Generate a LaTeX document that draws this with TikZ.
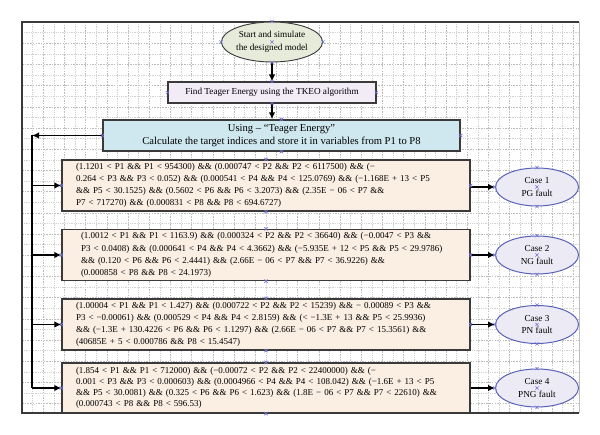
\documentclass[tikz,border=0pt]{standalone}
\usepackage{fontspec}
\setmainfont{Liberation Serif}
\usetikzlibrary{arrows.meta,shapes.geometric}
\definecolor{peach}{HTML}{FBEEE3}
\definecolor{usingfill}{HTML}{CFE7EE}
\definecolor{tkeofill}{HTML}{F1ECF6}
\definecolor{startfill}{HTML}{E7EBD9}
\definecolor{casefill}{HTML}{ECEAF4}
\definecolor{caseline}{HTML}{5A62B8}
\definecolor{darkline}{HTML}{3A3A3A}
\definecolor{markblue}{HTML}{7272D8}
\definecolor{gridc}{HTML}{BDBDBD}
\tikzset{
  txt/.style={font=\fontsize{9.2}{12.4}\selectfont},
  btxt/.style={font=\fontsize{9}{12.2}\selectfont},
  startell/.style={ellipse, draw=darkline, line width=0.9pt, fill=startfill, minimum width=100, minimum height=40, inner sep=0pt, align=center, txt},
  plainbox/.style={rectangle, draw=darkline, line width=1.1pt, inner sep=2pt, align=center, txt},
  condbox/.style={rectangle, draw=darkline, line width=1.3pt, fill=peach, inner xsep=14pt, inner ysep=1pt, text width=380pt, minimum height=51, align=left, btxt},
  caseell/.style={ellipse, draw=caseline, line width=1pt, fill=casefill, minimum width=83, minimum height=38, inner sep=0pt, align=center, txt},
  arr/.style={draw=black, line width=1.7pt, -{Latex[length=7pt,width=6.5pt]}},
  bus/.style={draw=black, line width=1.5pt},
  cpm/.style={draw=markblue, line width=0.6pt},
  gridmaj/.style={draw=gridc, line width=0.4pt, dash pattern=on 1.5pt off 1.2pt},
  gridmin/.style={draw=gridc!70, line width=0.4pt, dash pattern=on 0.6pt off 1.2pt},
}
\begin{document}
\begin{tikzpicture}[x=1pt,y=-1pt]
\useasboundingbox (0,0) rectangle (600,435);
\fill[white] (0,0) rectangle (600,435);
% grid
\begin{scope}
\clip (22,22) rectangle (579,413);
\foreach \i in {1,...,53} {
  \pgfmathsetmacro{\xx}{22+10.6*\i}
  \ifodd\i \draw[gridmin] (\xx,22) -- (\xx,413); \else \draw[gridmaj] (\xx,22) -- (\xx,413); \fi
}
\foreach \i in {1,...,37} {
  \pgfmathsetmacro{\yy}{22+10.6*\i}
  \ifodd\i \draw[gridmin] (22,\yy) -- (579,\yy); \else \draw[gridmaj] (22,\yy) -- (579,\yy); \fi
}
\end{scope}
\draw[gridc, line width=0.6pt] (579,22) -- (579,413);
\draw[darkline, line width=1.2pt] (579,22) -- (22,22) -- (22,413) -- (579,413);

% nodes
\node[startell] (start) at (272,42) {Start and simulate\\the designed model};
\node[plainbox, fill=tkeofill, minimum width=208, minimum height=21] (tkeo) at (272,92.5) {Find Teager Energy using the TKEO algorithm};
\node[plainbox, fill=usingfill, minimum width=357, minimum height=31, line width=1.3pt, inner sep=1pt, font=\fontsize{10.6}{12.6}\selectfont] (using) at (281.5,135.5) {Using – “Teager Energy”\\Calculate the target indices and store it in variables from P1 to P8};

\node[condbox] (b1) at (266,185.5) {(1.1201 < P1 \&\& P1 < 954300) \&\& (0.000747 < P2 \&\& P2 < 6117500) \&\& (−\\0.264 < P3 \&\& P3 < 0.052) \&\& (0.000541 < P4 \&\& P4 < 125.0769) \&\& (−1.168E + 13 < P5\\\&\& P5 < 30.1525) \&\& (0.5602 < P6 \&\& P6 < 3.2073) \&\& (2.35E − 06 < P7 \&\&\\P7 < 717270) \&\& (0.000831 < P8 \&\& P8 < 694.6727)};
\node[condbox, inner xsep=19pt, text width=370pt] (b2) at (266,255) {(1.0012 < P1 \&\& P1 < 1163.9) \&\& (0.000324 < P2 \&\& P2 < 36640) \&\& (−0.0047 < P3 \&\&\\P3 < 0.0408) \&\& (0.000641 < P4 \&\& P4 < 4.3662) \&\& (−5.935E + 12 < P5 \&\& P5 < 29.9786)\\\&\& (0.120 < P6 \&\& P6 < 2.4441) \&\& (2.66E − 06 < P7 \&\& P7 < 36.9226) \&\&\\(0.000858 < P8 \&\& P8 < 24.1973)};
\node[condbox] (b3) at (266,324.5) {(1.00004 < P1 \&\& P1 < 1.427) \&\& (0.000722 < P2 \&\& P2 < 15239) \&\& − 0.00089 < P3 \&\&\\P3 < −0.00061) \&\& (0.000529 < P4 \&\& P4 < 2.8159) \&\& (< −1.3E + 13 \&\& P5 < 25.9936)\\\&\& (−1.3E + 130.4226 < P6 \&\& P6 < 1.1297) \&\& (2.66E − 06 < P7 \&\& P7 < 15.3561) \&\&\\(40685E + 5 < 0.000786 \&\& P8 < 15.4547)};
\node[condbox, minimum height=50, font=\fontsize{9}{11.2}\selectfont] (b4) at (266,388) {(1.854 < P1 \&\& P1 < 712000) \&\& (−0.00072 < P2 \&\& P2 < 22400000) \&\& (−\\0.001 < P3 \&\& P3 < 0.000603) \&\& (0.0004966 < P4 \&\& P4 < 108.042) \&\& (−1.6E + 13 < P5\\\&\& P5 < 30.0081) \&\& (0.325 < P6 \&\& P6 < 1.623) \&\& (1.8E − 06 < P7 \&\& P7 < 22610) \&\&\\(0.000743 < P8 \&\& P8 < 596.53)};

\node[caseell] (c1) at (537,187) {Case 1\\PG fault};
\node[caseell] (c2) at (537,255) {Case 2\\NG fault};
\node[caseell] (c3) at (537,324.5) {Case 3\\PN fault};
\node[caseell] (c4) at (537,388) {Case 4\\PNG fault};

% connectors
\draw[arr] (start) -- (tkeo);
\draw[arr] (tkeo.south) -- (tkeo.south |- using.north);
\coordinate (bustop) at (32,135.5);
\coordinate (busbot) at (32,388);
\draw[arr] (using.west) -- (bustop);
\draw[bus] (bustop) -- (busbot);
\foreach \b in {b1,b2,b3,b4} { \draw[arr] (bustop |- \b.west) -- (\b.west); }
\draw[arr] (b1.east |- c1.west) -- (c1.west);
\draw[arr] (b2) -- (c2);
\draw[arr] (b3) -- (c3);
\draw[arr] (b4) -- (c4);

% connection point markers
\foreach \p in {start.north,start.south,start.east,start.west,start.center,
  tkeo.north,tkeo.south,tkeo.east,tkeo.west,
  using.north,using.south,using.east,using.west,
  b1.north,b1.south,b1.east,b1.west,b2.north,b2.south,b2.east,b2.west,
  b3.north,b3.south,b3.east,b3.west,b4.north,b4.south,b4.west,
  c1.north,c1.south,c1.center,c1.west,c2.north,c2.south,c2.center,c2.west,
  c3.north,c3.south,c3.center,c3.west,c4.north,c4.south,c4.center,c4.west} {
  \draw[cpm] (\p) ++(-1.6,-1.6) -- ++(3.2,3.2) ++(-3.2,0) -- ++(3.2,-3.2);
}
\end{tikzpicture}
\end{document}
